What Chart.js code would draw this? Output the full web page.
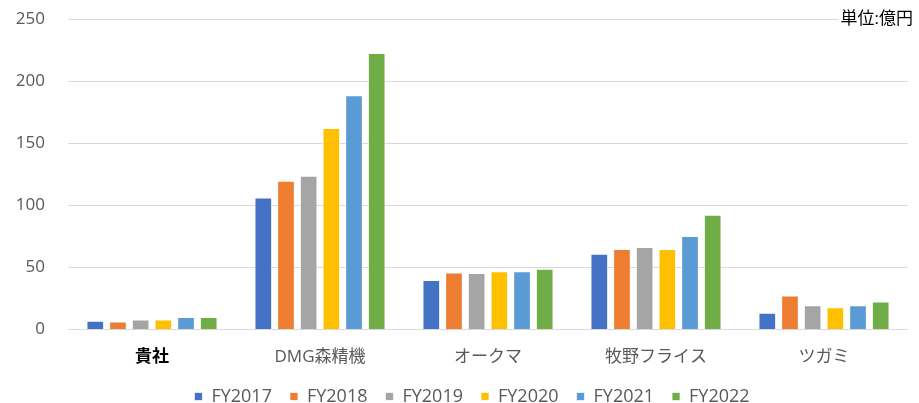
<!DOCTYPE html>
<html lang="ja">
<head>
  <meta charset="UTF-8">
  <title>売上比較</title>
  <style>
    body { margin: 0; background: #fff; }
    #wrap { width: 919px; height: 403px; }
  </style>
  <script src="https://cdn.jsdelivr.net/npm/chart.js"></script>
</head>
<body>
  <div id="wrap">
    <canvas id="salesChart" width="919" height="403"></canvas>
  </div>

  <script>
    const companies = ["貴社", "DMG森精機", "オークマ", "牧野フライス", "ツガミ"];
    const years = ["FY2017", "FY2018", "FY2019", "FY2020", "FY2021", "FY2022"];
    const fy2017 = [7, 106.5, 40, 61, 13.5];
    const fy2018 = [6.5, 120, 46, 65, 27.5];
    const fy2019 = [8, 124, 45.5, 66.5, 19.5];
    const fy2020 = [8, 162.5, 47, 65, 18];
    const fy2021 = [10, 189, 47, 75.5, 19.5];
    const fy2022 = [10, 223, 49, 92.5, 22.5];
    const yTicks = [0, 50, 100, 150, 200, 250];
    const unitLabel = "単位:億円";

    const colors = ["#4472C4", "#ED7D31", "#A5A5A5", "#FFC000", "#5B9BD5", "#70AD47"];
    const series = [fy2017, fy2018, fy2019, fy2020, fy2021, fy2022];

    const fontFamily = "'Open Sans', 'Noto Sans CJK JP', sans-serif";

    const unitPlugin = {
      id: "unitLabel",
      afterLayout(chart) {
        // legend sits a bit right of the canvas centre in the original
        chart.legend.left += 18;
        chart.legend.right += 18;
      },
      // unit label at the top right, over the top gridline
      afterDraw(chart) {
        const ctx = chart.ctx;
        ctx.save();
        ctx.font = "17px " + fontFamily;
        const w = ctx.measureText(unitLabel).width;
        const x = 913;
        const y = chart.scales.y.getPixelForValue(250);
        ctx.fillStyle = "#fff";
        ctx.fillRect(x - w - 2, y - 10, w + 6, 20);
        ctx.fillStyle = "#000";
        ctx.textAlign = "right";
        ctx.textBaseline = "middle";
        ctx.fillText(unitLabel, x, y);
        ctx.restore();
      }
    };

    new Chart(document.getElementById("salesChart"), {
      type: "bar",
      data: {
        labels: companies,
        datasets: years.map((y, i) => ({
          label: y,
          data: series[i],
          backgroundColor: colors[i],
          borderColor: "rgba(255,255,255,0.7)",
          borderWidth: 1,
          categoryPercentage: 0.81,
          barPercentage: 0.78
        }))
      },
      options: {
        responsive: false,
        animation: false,
        layout: { padding: { left: 0, right: 11, top: 19.5, bottom: -12.5 } },
        scales: {
          x: {
            grid: { display: false },
            border: { display: false },
            ticks: {
              padding: 9,
              color: ctx => ctx.index === 0 ? "#000" : "#595959",
              font: ctx => ({ family: fontFamily, size: 17, weight: ctx.index === 0 ? "bold" : "normal" })
            },
            afterFit: s => { s.height = 40; }
          },
          y: {
            min: 0,
            max: 250,
            afterBuildTicks: s => { s.ticks = yTicks.map(v => ({ value: v })); },
            grid: { color: "#d9d9d9", lineWidth: 1, drawTicks: false },
            border: { display: false },
            ticks: {
              padding: 23,
              color: "#595959",
              font: { family: fontFamily, size: 17 }
            },
            afterFit: s => {
              s.width = 68;
              s.paddingTop = 0;
              s.paddingBottom = 0;
            }
          }
        },
        plugins: {
          legend: {
            position: "bottom",
            labels: {
              boxWidth: 8,
              boxHeight: 8,
              padding: 18,
              color: "#595959",
              font: { family: fontFamily, size: 18 }
            }
          },
          tooltip: { enabled: false },
          title: { display: false }
        }
      },
      plugins: [unitPlugin]
    });
  </script>
</body>
</html>
